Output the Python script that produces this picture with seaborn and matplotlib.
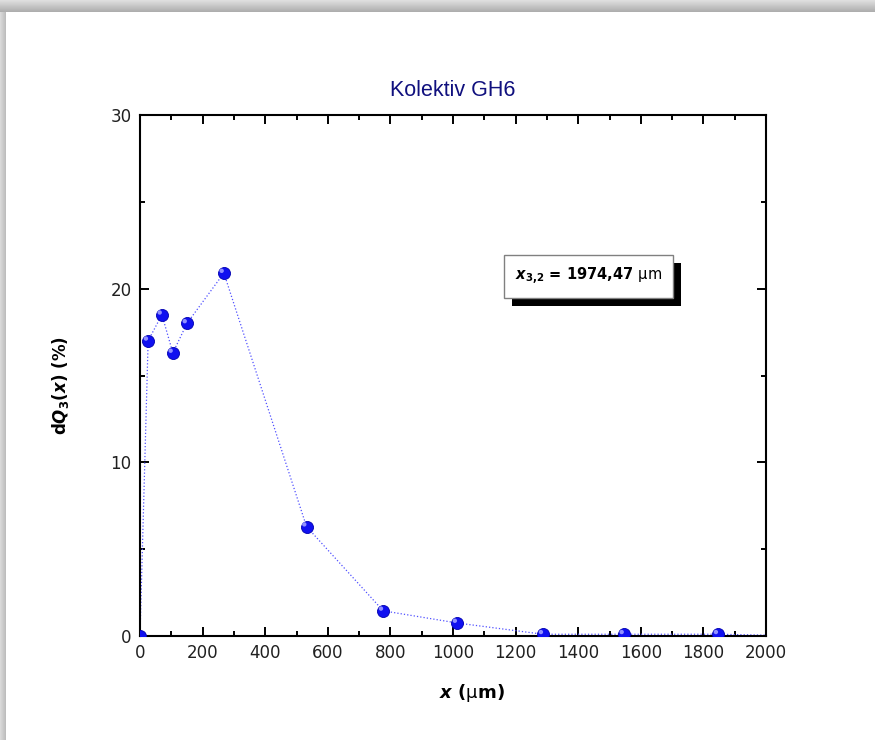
import numpy as np
import pandas as pd
import matplotlib
matplotlib.use('Agg')
import matplotlib.pyplot as plt
import matplotlib.patheffects as pe
from matplotlib.transforms import offset_copy
from matplotlib.ticker import MultipleLocator
import seaborn as sns

# values
size_um = [0, 26, 70, 105, 150, 268, 532, 777, 1013, 1288, 1546, 1847, 2150]
dq3_pct = [0, 17.0, 18.5, 16.3, 18.0, 20.9, 6.3, 1.45, 0.75, 0.1, 0.1, 0.1, 0.0]
x32_label = '1974,47'

df = pd.DataFrame({'x': size_um, 'dQ3': dq3_pct})

sns.set_style('ticks')
plt.rcParams['font.family'] = ['DejaVu Sans']
plt.rcParams['mathtext.fontset'] = 'dejavusans'
plt.rcParams['text.color'] = 'black'
plt.rcParams['axes.labelcolor'] = 'black'

fig = plt.figure(figsize=(8.75, 7.4), dpi=100)

# grey drop-shadow frame on the top and left edges
H, W = 740, 875
bg = np.ones((H, W))
top = np.linspace(0.87, 0.68, 12)
for i, v in enumerate(top):
    bg[i, :] = v
left = np.linspace(0.85, 0.74, 6)
for j, v in enumerate(left):
    bg[12:, j] = np.minimum(bg[12:, j], v)
fig.figimage(bg, cmap='gray', vmin=0, vmax=1, origin='upper', zorder=-5)

ax = fig.add_axes([140 / 875, 1 - 636 / 740, 626 / 875, 521 / 740])
ax.set_zorder(2)
ax.set_facecolor('white')

sns.lineplot(data=df, x='x', y='dQ3', ax=ax, color='#5050ff', linestyle=':',
             linewidth=0.9, sort=False, clip_on=True, zorder=2)
sns.scatterplot(data=df, x='x', y='dQ3', ax=ax, color='#1010f0', s=75,
                edgecolor='#0000b0', linewidth=0.6, zorder=3, clip_on=True)
# little highlight to give the spheres their shine
hl = offset_copy(ax.transData, fig=fig, x=-1.6, y=1.6, units='points')
ax.scatter(df['x'], df['dQ3'], s=10, color='#9090ff', edgecolor='none',
           transform=hl, zorder=4, clip_on=True)

ax.set_xlim(0, 2000)
ax.set_ylim(0, 30)
ax.xaxis.set_major_locator(MultipleLocator(200))
ax.xaxis.set_minor_locator(MultipleLocator(100))
ax.yaxis.set_major_locator(MultipleLocator(10))
ax.yaxis.set_minor_locator(MultipleLocator(5))
ax.tick_params(which='both', direction='in', top=True, right=True,
               width=1.4, labelsize=12, colors='black', labelcolor='#202020')
ax.tick_params(which='major', length=6.5, pad=6)
ax.tick_params(which='minor', length=3.5)
for s in ax.spines.values():
    s.set_visible(True)
    s.set_linewidth(1.5)
    s.set_color('black')

ax.set_title('Kolektiv GH6', fontsize=15.5, color='#10107e',
             family=['Liberation Sans', 'DejaVu Sans'], pad=14)
ax.set_xlabel(r'$\mathbfit{x}$ ($\mathrm{\mu}$m)', fontsize=13,
              fontweight='bold')
ax.xaxis.set_label_coords(0.53, -0.089)
ax.set_ylabel(r'd$\mathbfit{Q}_{\mathbf{3}}\mathbf{(}\mathbfit{x}\mathbf{)}$ (%)',
              fontsize=12, fontweight='bold')
ax.yaxis.set_label_coords(-0.11, 0.48)

t = ax.text(0.717, 0.69,
            r'$\mathbfit{x}_{\mathbf{3{,}2}}$ = ' + x32_label + r' $\mathrm{\mu m}$',
            transform=ax.transAxes, ha='center', va='center', fontsize=10.5,
            fontweight='bold',
            bbox=dict(boxstyle='square,pad=0.75', facecolor='white',
                      edgecolor='#808080', linewidth=1.0))
t.get_bbox_patch().set_path_effects([
    pe.SimplePatchShadow(offset=(5.5, -5.5), shadow_rgbFace='black', alpha=1.0),
    pe.Normal()])

fig.savefig('out.png', dpi=100)
